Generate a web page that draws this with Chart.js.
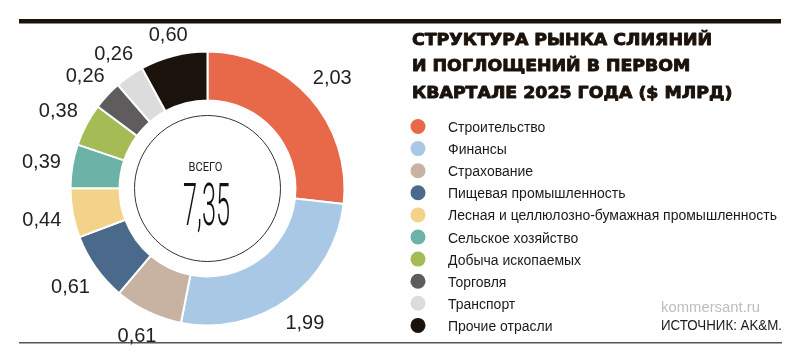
<!DOCTYPE html>
<html>
<head>
<meta charset="utf-8">
<script src="https://cdn.jsdelivr.net/npm/chart.js@4"></script>
<style>
  body { margin: 0; background: #fff; }
  #chart { display: block; }
</style>
</head>
<body>
<canvas id="chart" width="800" height="362"></canvas>
<script>
// data
const sectors = ["Строительство", "Финансы", "Страхование", "Пищевая промышленность",
  "Лесная и целлюлозно-бумажная промышленность", "Сельское хозяйство",
  "Добыча ископаемых", "Торговля", "Транспорт", "Прочие отрасли"];
const values = [2.03, 1.99, 0.61, 0.61, 0.44, 0.39, 0.38, 0.26, 0.26, 0.60];
const colors = ["#e8694a", "#a9c8e6", "#c8b2a2", "#4b6a8b", "#f3d38a",
  "#6cb2a7", "#a4bb56", "#5e5c5c", "#dcdcdc", "#1b120c"];
const totalText = "7,35";
const titleLines = ["СТРУКТУРА РЫНКА СЛИЯНИЙ", "И ПОГЛОЩЕНИЙ В ПЕРВОМ", "КВАРТАЛЕ 2025 ГОДА ($ МЛРД)"];
const sourceText = "ИСТОЧНИК: AK&M.";
const siteText = "kommersant.ru";

const fmt = v => v.toFixed(2).replace(".", ",");

// draw scaled text, baseline alphabetic
function drawText(ctx, text, x, y, font, color, align, sx, stroke) {
  ctx.save();
  ctx.font = font;
  ctx.fillStyle = color;
  ctx.textAlign = align;
  ctx.textBaseline = "alphabetic";
  ctx.translate(x, y);
  ctx.scale(sx, 1);
  ctx.fillText(text, 0, 0);
  if (stroke) {
    ctx.strokeStyle = color;
    ctx.lineWidth = stroke;
    ctx.lineJoin = "round";
    ctx.strokeText(text, 0, 0);
  }
  ctx.restore();
}

function scaleFor(ctx, text, font, width) {
  ctx.save();
  ctx.font = font;
  const w = ctx.measureText(text).width;
  ctx.restore();
  return width / w;
}

const extras = {
  id: "extras",
  afterDraw(chart) {
    const ctx = chart.ctx;
    const arcs = chart.getDatasetMeta(0).data;
    const cx = arcs[0].x, cy = arcs[0].y;
    const outer = arcs[0].outerRadius;

    // rules
    ctx.save();
    ctx.fillStyle = "#1b120c";
    ctx.fillRect(19, 19, 762, 4.5);
    ctx.fillStyle = "#555";
    ctx.fillRect(19, 342, 763, 1.5);
    ctx.restore();

    // value labels around the ring
    const lblFont = "20px 'Liberation Sans', Arial, sans-serif";
    ctx.save();
    ctx.font = lblFont;
    arcs.forEach((arc, i) => {
      const text = fmt(values[i]);
      const mid = (arc.startAngle + arc.endAngle) / 2;
      const w = ctx.measureText(text).width;
      const h = 14;
      const r = outer + 11 + Math.abs(Math.cos(mid)) * w / 2 + Math.abs(Math.sin(mid)) * h / 2;
      const x = cx + Math.cos(mid) * r;
      const y = cy + Math.sin(mid) * r;
      drawText(ctx, text, x, y + h / 2, lblFont, "#222", "center", 1);
    });
    ctx.restore();

    // inner circle and total
    ctx.save();
    ctx.strokeStyle = "#333";
    ctx.lineWidth = 1;
    ctx.beginPath();
    ctx.arc(cx, cy, 73, 0, Math.PI * 2);
    ctx.stroke();
    ctx.restore();
    const vFont = "13px Roboto, sans-serif";
    drawText(ctx, "ВСЕГО", cx - 2, 170.5, vFont, "#222", "center", scaleFor(ctx, "ВСЕГО", vFont, 34));
    const totFont = "300 60px Roboto, sans-serif";
    drawText(ctx, totalText, cx - 1, 225, totFont, "#111", "center",
      scaleFor(ctx, totalText, totFont, 47));

    // title
    const tFont = "bold 16.5px 'DejaVu Sans', sans-serif";
    const tScale = scaleFor(ctx, titleLines[0], tFont, 300);
    titleLines.forEach((line, i) => {
      drawText(ctx, line, 412, 44.5 + i * 26.5, tFont, "#1b120c", "left", tScale, 0.9);
    });

    // legend
    const legFont = "15.5px 'Liberation Sans', Arial, sans-serif";
    const legScale = scaleFor(ctx, sectors[4], legFont, 329);
    sectors.forEach((name, i) => {
      const y = 126.5 + i * 22.1;
      ctx.save();
      ctx.fillStyle = colors[i];
      ctx.beginPath();
      ctx.arc(418, y, 7.5, 0, Math.PI * 2);
      ctx.fill();
      ctx.restore();
      drawText(ctx, name, 448, y + 5.5, legFont, "#1a1a1a", "left", legScale);
    });

    // source
    const sFont = "15px 'Liberation Sans', Arial, sans-serif";
    drawText(ctx, siteText, 661, 311.5, sFont, "#bdbdbd", "left", scaleFor(ctx, siteText, sFont, 99));
    drawText(ctx, sourceText, 782, 330, sFont, "#1a1a1a", "right", scaleFor(ctx, sourceText, sFont, 121));
  }
};

const ctx = document.getElementById("chart").getContext("2d");
new Chart(ctx, {
  type: "doughnut",
  data: {
    labels: sectors,
    datasets: [{
      data: values,
      backgroundColor: colors,
      borderColor: "#fff",
      borderWidth: 2
    }]
  },
  options: {
    responsive: false,
    animation: false,
    radius: 137,
    cutout: "64.2%",
    layout: { padding: { left: 0, right: 385, top: 51, bottom: 36 } },
    plugins: {
      legend: { display: false },
      tooltip: { enabled: false }
    }
  },
  plugins: [extras]
});
</script>
</body>
</html>
